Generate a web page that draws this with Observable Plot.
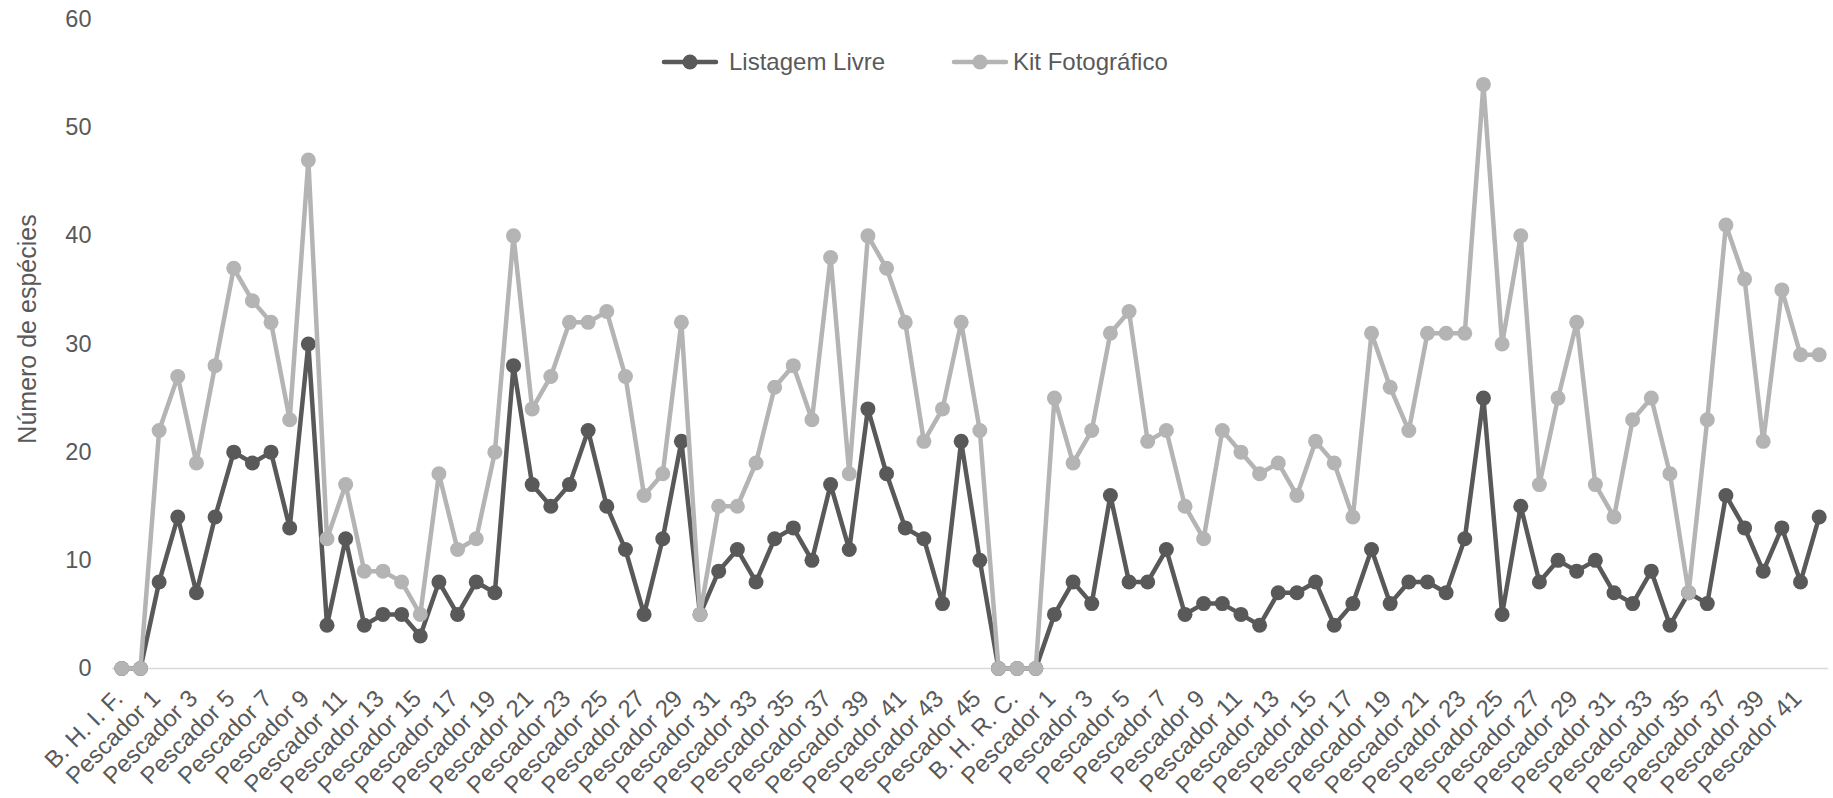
<!DOCTYPE html>
<html>
<head>
<meta charset="utf-8">
<script src="https://cdn.jsdelivr.net/npm/d3@7"></script>
<script src="https://cdn.jsdelivr.net/npm/@observablehq/plot@0.6"></script>
<style>
  html, body { margin: 0; padding: 0; background: #fff; }
  #wrap { position: relative; width: 1833px; height: 798px; font-family: "Liberation Sans", Arial, sans-serif; }
  #legend { position: absolute; left: 0; top: 0; width: 1833px; height: 0; color: #595959; font-size: 24px; }
  .item { position: absolute; top: 48px; height: 28px; display: flex; align-items: center; white-space: nowrap; }
  .item svg { display: block; }
</style>
</head>
<body>
<div id="wrap">
  <div id="chart"></div>
  <div id="legend"></div>
</div>
<script>
const categories = [
  "B. H. I. F.", "",
  "Pescador 1", "Pescador 2", "Pescador 3", "Pescador 4", "Pescador 5", "Pescador 6", "Pescador 7", "Pescador 8", "Pescador 9", "Pescador 10",
  "Pescador 11", "Pescador 12", "Pescador 13", "Pescador 14", "Pescador 15", "Pescador 16", "Pescador 17", "Pescador 18", "Pescador 19", "Pescador 20",
  "Pescador 21", "Pescador 22", "Pescador 23", "Pescador 24", "Pescador 25", "Pescador 26", "Pescador 27", "Pescador 28", "Pescador 29", "Pescador 30",
  "Pescador 31", "Pescador 32", "Pescador 33", "Pescador 34", "Pescador 35", "Pescador 36", "Pescador 37", "Pescador 38", "Pescador 39", "Pescador 40",
  "Pescador 41", "Pescador 42", "Pescador 43", "Pescador 44", "Pescador 45",
  "", "B. H. R. C.", "",
  "Pescador 1", "Pescador 2", "Pescador 3", "Pescador 4", "Pescador 5", "Pescador 6", "Pescador 7", "Pescador 8", "Pescador 9", "Pescador 10",
  "Pescador 11", "Pescador 12", "Pescador 13", "Pescador 14", "Pescador 15", "Pescador 16", "Pescador 17", "Pescador 18", "Pescador 19", "Pescador 20",
  "Pescador 21", "Pescador 22", "Pescador 23", "Pescador 24", "Pescador 25", "Pescador 26", "Pescador 27", "Pescador 28", "Pescador 29", "Pescador 30",
  "Pescador 31", "Pescador 32", "Pescador 33", "Pescador 34", "Pescador 35", "Pescador 36", "Pescador 37", "Pescador 38", "Pescador 39", "Pescador 40",
  "Pescador 41", "Pescador 42"
];

const listagemLivre = [
  0, 0, 8, 14, 7, 14, 20, 19, 20, 13,
  30, 4, 12, 4, 5, 5, 3, 8, 5, 8,
  7, 28, 17, 15, 17, 22, 15, 11, 5, 12,
  21, 5, 9, 11, 8, 12, 13, 10, 17, 11,
  24, 18, 13, 12, 6, 21, 10, 0, 0, 0,
  5, 8, 6, 16, 8, 8, 11, 5, 6, 6,
  5, 4, 7, 7, 8, 4, 6, 11, 6, 8,
  8, 7, 12, 25, 5, 15, 8, 10, 9, 10,
  7, 6, 9, 4, 7, 6, 16, 13, 9, 13,
  8, 14
];

const kitFotografico = [
  0, 0, 22, 27, 19, 28, 37, 34, 32, 23,
  47, 12, 17, 9, 9, 8, 5, 18, 11, 12,
  20, 40, 24, 27, 32, 32, 33, 27, 16, 18,
  32, 5, 15, 15, 19, 26, 28, 23, 38, 18,
  40, 37, 32, 21, 24, 32, 22, 0, 0, 0,
  25, 19, 22, 31, 33, 21, 22, 15, 12, 22,
  20, 18, 19, 16, 21, 19, 14, 31, 26, 22,
  31, 31, 31, 54, 30, 40, 17, 25, 32, 17,
  14, 23, 25, 18, 7, 23, 41, 36, 21, 35,
  29, 29
];

const seriesNames = ["Listagem Livre", "Kit Fotográfico"];
const seriesColors = ["#595959", "#b4b4b4"];
const yTicks = [0, 10, 20, 30, 40, 50, 60];
const yTitle = "Número de espécies";

const idx = categories.map((_, i) => i);
const dark = idx.map(i => ({i, v: listagemLivre[i]}));
const light = idx.map(i => ({i, v: kitFotografico[i]}));

const chart = Plot.plot({
  width: 1833,
  height: 798,
  marginTop: 19,
  marginBottom: 130,
  marginLeft: 112,
  marginRight: 5,
  style: { fontFamily: "'Liberation Sans', Arial, sans-serif", fontSize: "24px", color: "#595959", background: "#fff" },
  x: { type: "point", domain: idx, padding: 0.5, round: false },
  y: { domain: [0, 60] },
  marks: [
    Plot.ruleY([0], { stroke: "#d9d9d9", strokeWidth: 1.5 }),
    Plot.axisY({ ticks: yTicks, tickSize: 0, tickPadding: 21, label: null, fontSize: 23.5 }),
    Plot.axisX({ tickSize: 0, tickPadding: 26, dx: -3, tickRotate: -45, label: null, fontSize: 24,
                 tickFormat: i => (i % 2 === 0 ? categories[i] : "") }),
    Plot.text([yTitle], { frameAnchor: "left", textAnchor: "middle", lineAnchor: "middle", dx: -85, dy: -15, rotate: -90, fontSize: 25, fill: "#595959" }),
    Plot.line(dark, { x: "i", y: "v", stroke: seriesColors[0], strokeWidth: 4.5, strokeLinejoin: "round", strokeLinecap: "round" }),
    Plot.dot(dark, { x: "i", y: "v", r: 7.5, fill: seriesColors[0], stroke: null }),
    Plot.line(light, { x: "i", y: "v", stroke: seriesColors[1], strokeWidth: 4.5, strokeLinejoin: "round", strokeLinecap: "round" }),
    Plot.dot(light, { x: "i", y: "v", r: 7.5, fill: seriesColors[1], stroke: null })
  ]
});
document.getElementById("chart").appendChild(chart);

// Legend
const legend = document.getElementById("legend");
const legendLeft = [661, 951];
const textGap = [10, 4];
seriesNames.forEach((name, k) => {
  const item = document.createElement("div");
  item.className = "item";
  item.style.left = legendLeft[k] + "px";
  item.innerHTML =
    `<svg width="58" height="28"><line x1="3" y1="14" x2="55" y2="14" stroke="${seriesColors[k]}" stroke-width="4.5" stroke-linecap="round"/>` +
    `<circle cx="29" cy="14" r="7.5" fill="${seriesColors[k]}"/></svg>` +
    `<span style="margin-left:${textGap[k]}px">${name}</span>`;
  legend.appendChild(item);
});
</script>
</body>
</html>
